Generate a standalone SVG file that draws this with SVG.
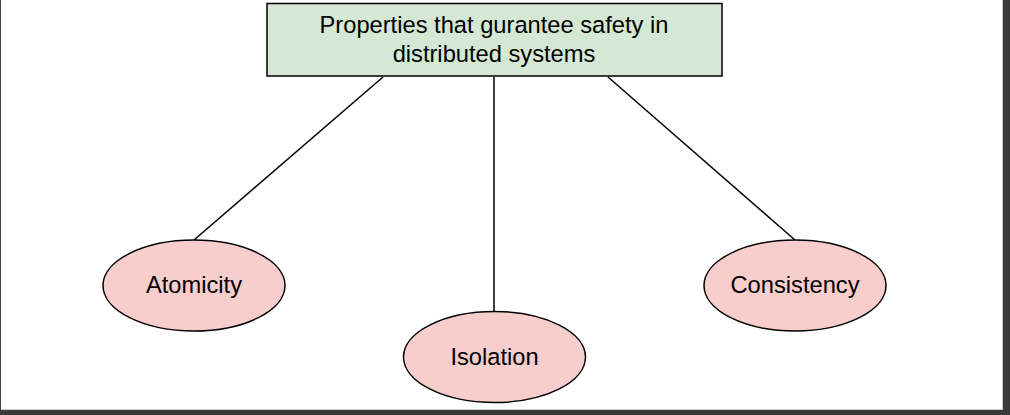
<svg xmlns="http://www.w3.org/2000/svg" width="1010" height="415" viewBox="0 0 1010 415">
<style>
text{font-family:"Liberation Sans",Arial,sans-serif;font-size:23.7px;fill:#000;text-anchor:middle}
.ell{fill:#f8cecc;stroke:#000;stroke-width:1.5}
.box{fill:#d5e8d4;stroke:#000;stroke-width:1.5}
.edge{stroke:#000;stroke-width:1.5;fill:none}
</style>
<rect x="0" y="0" width="1010" height="415" fill="#fff"/>
<g id="frame">
<rect x="1003" y="0" width="7" height="415" fill="#3a3a3a"/>
<rect x="0" y="410" width="1010" height="5" fill="#3a3a3a"/>
<line x1="1002.5" y1="0" x2="1002.5" y2="410" stroke="#ccc" stroke-width="1"/>
<line x1="0" y1="409.5" x2="1003" y2="409.5" stroke="#ccc" stroke-width="1"/>
<line x1="0.5" y1="0" x2="0.5" y2="410" stroke="#444" stroke-width="1"/>
</g>
<g id="connectors">
<line class="edge" x1="383" y1="77" x2="194" y2="240"/>
<line class="edge" x1="494" y1="77" x2="494" y2="312"/>
<line class="edge" x1="608" y1="77" x2="795" y2="240"/>
</g>
<g id="root">
<rect class="box" x="267" y="3.5" width="455" height="72.5"/>
<text x="494" y="33">Properties that gurantee safety in</text>
<text x="494" y="62">distributed systems</text>
</g>
<g id="atomicity">
<ellipse class="ell" cx="194" cy="285.5" rx="91" ry="45.5"/>
<text x="194" y="293">Atomicity</text>
</g>
<g id="isolation">
<ellipse class="ell" cx="494.5" cy="357" rx="91" ry="45.5"/>
<text x="494.5" y="365">Isolation</text>
</g>
<g id="consistency">
<ellipse class="ell" cx="795" cy="285.5" rx="91" ry="45.5"/>
<text x="795" y="293">Consistency</text>
</g>
</svg>
